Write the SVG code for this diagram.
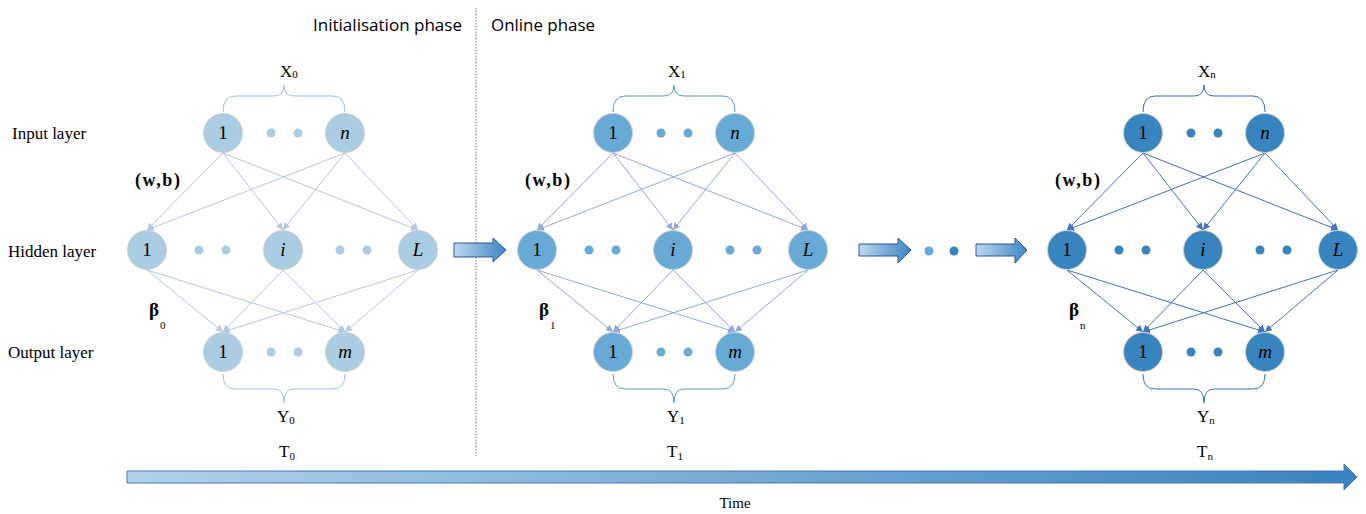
<svg xmlns="http://www.w3.org/2000/svg" width="1366" height="514" viewBox="0 0 1366 514">
<style>
.serif{font-family:"Liberation Serif","Times New Roman",serif;fill:#000}
.lbl{font-size:17px}
.nt{font-size:19px;text-anchor:middle}
.it{font-style:italic}
.n1{fill:#aacde3;stroke:#cfcfcf;stroke-width:1}
.n2{fill:#68aad6;stroke:#cfcfcf;stroke-width:1}
.n3{fill:#3784bf;stroke:#cfcfcf;stroke-width:1}
.d1{fill:#aacde3}.d2{fill:#68aad6}.d3{fill:#3784bf}
.c1{stroke:#b4c7e7;stroke-width:1;fill:none;marker-end:url(#a1)}
.c2{stroke:#8faadc;stroke-width:1;fill:none;marker-end:url(#a2)}
.c3{stroke:#4472c4;stroke-width:1;fill:none;marker-end:url(#a3)}
.b1{stroke:#9dc3e6;stroke-width:1;fill:none}
.b2{stroke:#5b9bd5;stroke-width:1;fill:none}
.b3{stroke:#2e75b6;stroke-width:1;fill:none}
.sub{font-size:11px}
.wb{font-size:18px;font-weight:bold}
.phase{font-family:"Open Sans","Liberation Sans",sans-serif;font-size:16px;fill:#000}
.blk{fill:url(#gb);stroke:#2f5597;stroke-width:1}
</style>
<defs>
<marker id="a1" markerUnits="userSpaceOnUse" markerWidth="8" markerHeight="8" refX="7" refY="3.5" orient="auto"><path d="M0,0 L7,3.5 L0,7 Z" fill="#b4c7e7"/></marker>
<marker id="a2" markerUnits="userSpaceOnUse" markerWidth="8" markerHeight="8" refX="7" refY="3.5" orient="auto"><path d="M0,0 L7,3.5 L0,7 Z" fill="#8faadc"/></marker>
<marker id="a3" markerUnits="userSpaceOnUse" markerWidth="8" markerHeight="8" refX="7" refY="3.5" orient="auto"><path d="M0,0 L7,3.5 L0,7 Z" fill="#4472c4"/></marker>
<linearGradient id="gb" x1="0" y1="0" x2="1" y2="0"><stop offset="0" stop-color="#bdd8ed"/><stop offset="1" stop-color="#3c86c2"/></linearGradient>
<linearGradient id="gt" x1="0" y1="0" x2="1" y2="0"><stop offset="0" stop-color="#b2d2e9"/><stop offset="1" stop-color="#3883bf"/></linearGradient>
</defs>
<rect width="1366" height="514" fill="#fff"/>

<!-- phase labels and divider -->
<g id="phases">
<line x1="476" y1="8" x2="476" y2="456" stroke="#6e6e6e" stroke-width="1" stroke-dasharray="1.5,1.5"/>
<text class="phase" x="462" y="31" text-anchor="end" textLength="149" lengthAdjust="spacingAndGlyphs">Initialisation phase</text>
<text class="phase" x="491" y="31" textLength="104" lengthAdjust="spacingAndGlyphs">Online phase</text>
</g>

<g id="layer-labels" class="serif lbl">
<text x="12" y="139">Input layer</text>
<text x="8" y="257">Hidden layer</text>
<text x="8" y="358">Output layer</text>
</g>

<!-- connectors -->
<g id="connectors">
<g class="c1">
<line x1="223" y1="153" x2="147" y2="230"/><line x1="223" y1="153" x2="283" y2="230"/><line x1="223" y1="153" x2="418" y2="230"/>
<line x1="345" y1="153" x2="147" y2="230"/><line x1="345" y1="153" x2="283" y2="230"/><line x1="345" y1="153" x2="418" y2="230"/>
<line x1="147" y1="270" x2="223" y2="332"/><line x1="147" y1="270" x2="345" y2="332"/>
<line x1="283" y1="270" x2="223" y2="332"/><line x1="283" y1="270" x2="345" y2="332"/>
<line x1="418" y1="270" x2="223" y2="332"/><line x1="418" y1="270" x2="345" y2="332"/>
</g>
<g class="c2">
<line x1="613" y1="153" x2="537" y2="230"/><line x1="613" y1="153" x2="673" y2="230"/><line x1="613" y1="153" x2="808" y2="230"/>
<line x1="735" y1="153" x2="537" y2="230"/><line x1="735" y1="153" x2="673" y2="230"/><line x1="735" y1="153" x2="808" y2="230"/>
<line x1="537" y1="270" x2="613" y2="332"/><line x1="537" y1="270" x2="735" y2="332"/>
<line x1="673" y1="270" x2="613" y2="332"/><line x1="673" y1="270" x2="735" y2="332"/>
<line x1="808" y1="270" x2="613" y2="332"/><line x1="808" y1="270" x2="735" y2="332"/>
</g>
<g class="c3">
<line x1="1143" y1="153" x2="1067" y2="230"/><line x1="1143" y1="153" x2="1203" y2="230"/><line x1="1143" y1="153" x2="1338" y2="230"/>
<line x1="1265" y1="153" x2="1067" y2="230"/><line x1="1265" y1="153" x2="1203" y2="230"/><line x1="1265" y1="153" x2="1338" y2="230"/>
<line x1="1067" y1="270" x2="1143" y2="332"/><line x1="1067" y1="270" x2="1265" y2="332"/>
<line x1="1203" y1="270" x2="1143" y2="332"/><line x1="1203" y1="270" x2="1265" y2="332"/>
<line x1="1338" y1="270" x2="1143" y2="332"/><line x1="1338" y1="270" x2="1265" y2="332"/>
</g>
</g>

<!-- network 0 -->
<g id="net0">
<path class="b1" d="M223,112 Q223,96 235,96 L274,96 Q284,96 284,85 Q284,96 294,96 L333,96 Q345,96 345,112"/>
<path class="b1" d="M223,374 Q223,389 235,389 L274,389 Q284,389 284,403 Q284,389 294,389 L333,389 Q345,389 345,374"/>
<text class="serif" x="280" y="77" font-size="17">X<tspan class="sub" dy="1">0</tspan></text>
<text class="serif" x="277" y="422" font-size="17">Y<tspan class="sub" dy="2">0</tspan></text>
<text class="serif" x="279" y="457" font-size="17">T<tspan class="sub" dy="3">0</tspan></text>
<text class="serif wb" x="135" y="186" textLength="45" lengthAdjust="spacing">(w,b)</text>
<text class="serif" x="149" y="316" font-size="19" font-weight="bold">β</text>
<text class="serif sub" x="160" y="329">0</text>
<g class="d1"><circle cx="271" cy="133" r="4.5"/><circle cx="298" cy="133" r="4.5"/><circle cx="199" cy="250" r="4.5"/><circle cx="226" cy="250" r="4.5"/><circle cx="340" cy="250" r="4.5"/><circle cx="367" cy="250" r="4.5"/><circle cx="271" cy="352" r="4.5"/><circle cx="298" cy="352" r="4.5"/></g>
</g>
<g id="net0-in1"><circle class="n1" cx="223" cy="133" r="19.5"/><text class="serif nt" x="223" y="139">1</text></g>
<g id="net0-inn"><circle class="n1" cx="345" cy="133" r="19.5"/><text class="serif nt it" x="345" y="139">n</text></g>
<g id="net0-h1"><circle class="n1" cx="147" cy="250" r="19.5"/><text class="serif nt" x="147" y="256">1</text></g>
<g id="net0-hi"><circle class="n1" cx="283" cy="250" r="19.5"/><text class="serif nt it" x="283" y="256">i</text></g>
<g id="net0-hL"><circle class="n1" cx="418" cy="250" r="19.5"/><text class="serif nt it" x="418" y="256">L</text></g>
<g id="net0-o1"><circle class="n1" cx="223" cy="352" r="19.5"/><text class="serif nt" x="223" y="358">1</text></g>
<g id="net0-om"><circle class="n1" cx="345" cy="352" r="19.5"/><text class="serif nt it" x="345" y="358">m</text></g>

<!-- network 1 -->
<g id="net1">
<path class="b2" d="M613,112 Q613,96 625,96 L664,96 Q674,96 674,85 Q674,96 684,96 L723,96 Q735,96 735,112"/>
<path class="b2" d="M613,374 Q613,389 625,389 L664,389 Q674,389 674,403 Q674,389 684,389 L723,389 Q735,389 735,374"/>
<text class="serif" x="668" y="77" font-size="17">X<tspan class="sub" dy="1">1</tspan></text>
<text class="serif" x="667" y="422" font-size="17">Y<tspan class="sub" dy="2">1</tspan></text>
<text class="serif" x="667" y="457" font-size="17">T<tspan class="sub" dy="3">1</tspan></text>
<text class="serif wb" x="525" y="186" textLength="45" lengthAdjust="spacing">(w,b)</text>
<text class="serif" x="539" y="316" font-size="19" font-weight="bold">β</text>
<text class="serif sub" x="550" y="329">1</text>
<g class="d2"><circle cx="661" cy="133" r="4.5"/><circle cx="688" cy="133" r="4.5"/><circle cx="589" cy="250" r="4.5"/><circle cx="616" cy="250" r="4.5"/><circle cx="730" cy="250" r="4.5"/><circle cx="757" cy="250" r="4.5"/><circle cx="661" cy="352" r="4.5"/><circle cx="688" cy="352" r="4.5"/></g>
</g>
<g id="net1-in1"><circle class="n2" cx="613" cy="133" r="19.5"/><text class="serif nt" x="613" y="139">1</text></g>
<g id="net1-inn"><circle class="n2" cx="735" cy="133" r="19.5"/><text class="serif nt it" x="735" y="139">n</text></g>
<g id="net1-h1"><circle class="n2" cx="537" cy="250" r="19.5"/><text class="serif nt" x="537" y="256">1</text></g>
<g id="net1-hi"><circle class="n2" cx="673" cy="250" r="19.5"/><text class="serif nt it" x="673" y="256">i</text></g>
<g id="net1-hL"><circle class="n2" cx="808" cy="250" r="19.5"/><text class="serif nt it" x="808" y="256">L</text></g>
<g id="net1-o1"><circle class="n2" cx="613" cy="352" r="19.5"/><text class="serif nt" x="613" y="358">1</text></g>
<g id="net1-om"><circle class="n2" cx="735" cy="352" r="19.5"/><text class="serif nt it" x="735" y="358">m</text></g>

<!-- network n -->
<g id="netn">
<path class="b3" d="M1143,112 Q1143,96 1155,96 L1194,96 Q1204,96 1204,85 Q1204,96 1214,96 L1253,96 Q1265,96 1265,112"/>
<path class="b3" d="M1143,374 Q1143,389 1155,389 L1194,389 Q1204,389 1204,403 Q1204,389 1214,389 L1253,389 Q1265,389 1265,374"/>
<text class="serif" x="1198" y="77" font-size="17">X<tspan class="sub" dy="1">n</tspan></text>
<text class="serif" x="1197" y="422" font-size="17">Y<tspan class="sub" dy="2">n</tspan></text>
<text class="serif" x="1197" y="457" font-size="17">T<tspan class="sub" dy="3">n</tspan></text>
<text class="serif wb" x="1055" y="186" textLength="45" lengthAdjust="spacing">(w,b)</text>
<text class="serif" x="1069" y="316" font-size="19" font-weight="bold">β</text>
<text class="serif sub" x="1080" y="329">n</text>
<g class="d3"><circle cx="1191" cy="133" r="4.5"/><circle cx="1218" cy="133" r="4.5"/><circle cx="1119" cy="250" r="4.5"/><circle cx="1146" cy="250" r="4.5"/><circle cx="1260" cy="250" r="4.5"/><circle cx="1287" cy="250" r="4.5"/><circle cx="1191" cy="352" r="4.5"/><circle cx="1218" cy="352" r="4.5"/></g>
</g>
<g id="netn-in1"><circle class="n3" cx="1143" cy="133" r="19.5"/><text class="serif nt" x="1143" y="139">1</text></g>
<g id="netn-inn"><circle class="n3" cx="1265" cy="133" r="19.5"/><text class="serif nt it" x="1265" y="139">n</text></g>
<g id="netn-h1"><circle class="n3" cx="1067" cy="250" r="19.5"/><text class="serif nt" x="1067" y="256">1</text></g>
<g id="netn-hi"><circle class="n3" cx="1203" cy="250" r="19.5"/><text class="serif nt it" x="1203" y="256">i</text></g>
<g id="netn-hL"><circle class="n3" cx="1338" cy="250" r="19.5"/><text class="serif nt it" x="1338" y="256">L</text></g>
<g id="netn-o1"><circle class="n3" cx="1143" cy="352" r="19.5"/><text class="serif nt" x="1143" y="358">1</text></g>
<g id="netn-om"><circle class="n3" cx="1265" cy="352" r="19.5"/><text class="serif nt it" x="1265" y="358">m</text></g>

<!-- transition arrows -->
<g id="transitions">
<path class="blk" d="M454,243 H493 V238 L506,250 L493,262 V257 H454 Z"/>
<path class="blk" d="M859,244 H898 V238 L911,250 L898,263 V256 H859 Z"/>
<circle cx="929" cy="251" r="4.5" fill="#68aad6"/>
<circle cx="954" cy="251" r="4.5" fill="#3784bf"/>
<path class="blk" d="M976,244 H1015 V238 L1027,250 L1015,263 V256 H976 Z"/>
</g>

<!-- time axis -->
<g id="time">
<path d="M127,471 H1344 V464 L1357,477 L1344,490 V483 H127 Z" fill="url(#gt)" stroke="#4a78b0" stroke-width="1"/>
<text class="serif" x="735" y="508" font-size="15" text-anchor="middle">Time</text>
</g>
</svg>
